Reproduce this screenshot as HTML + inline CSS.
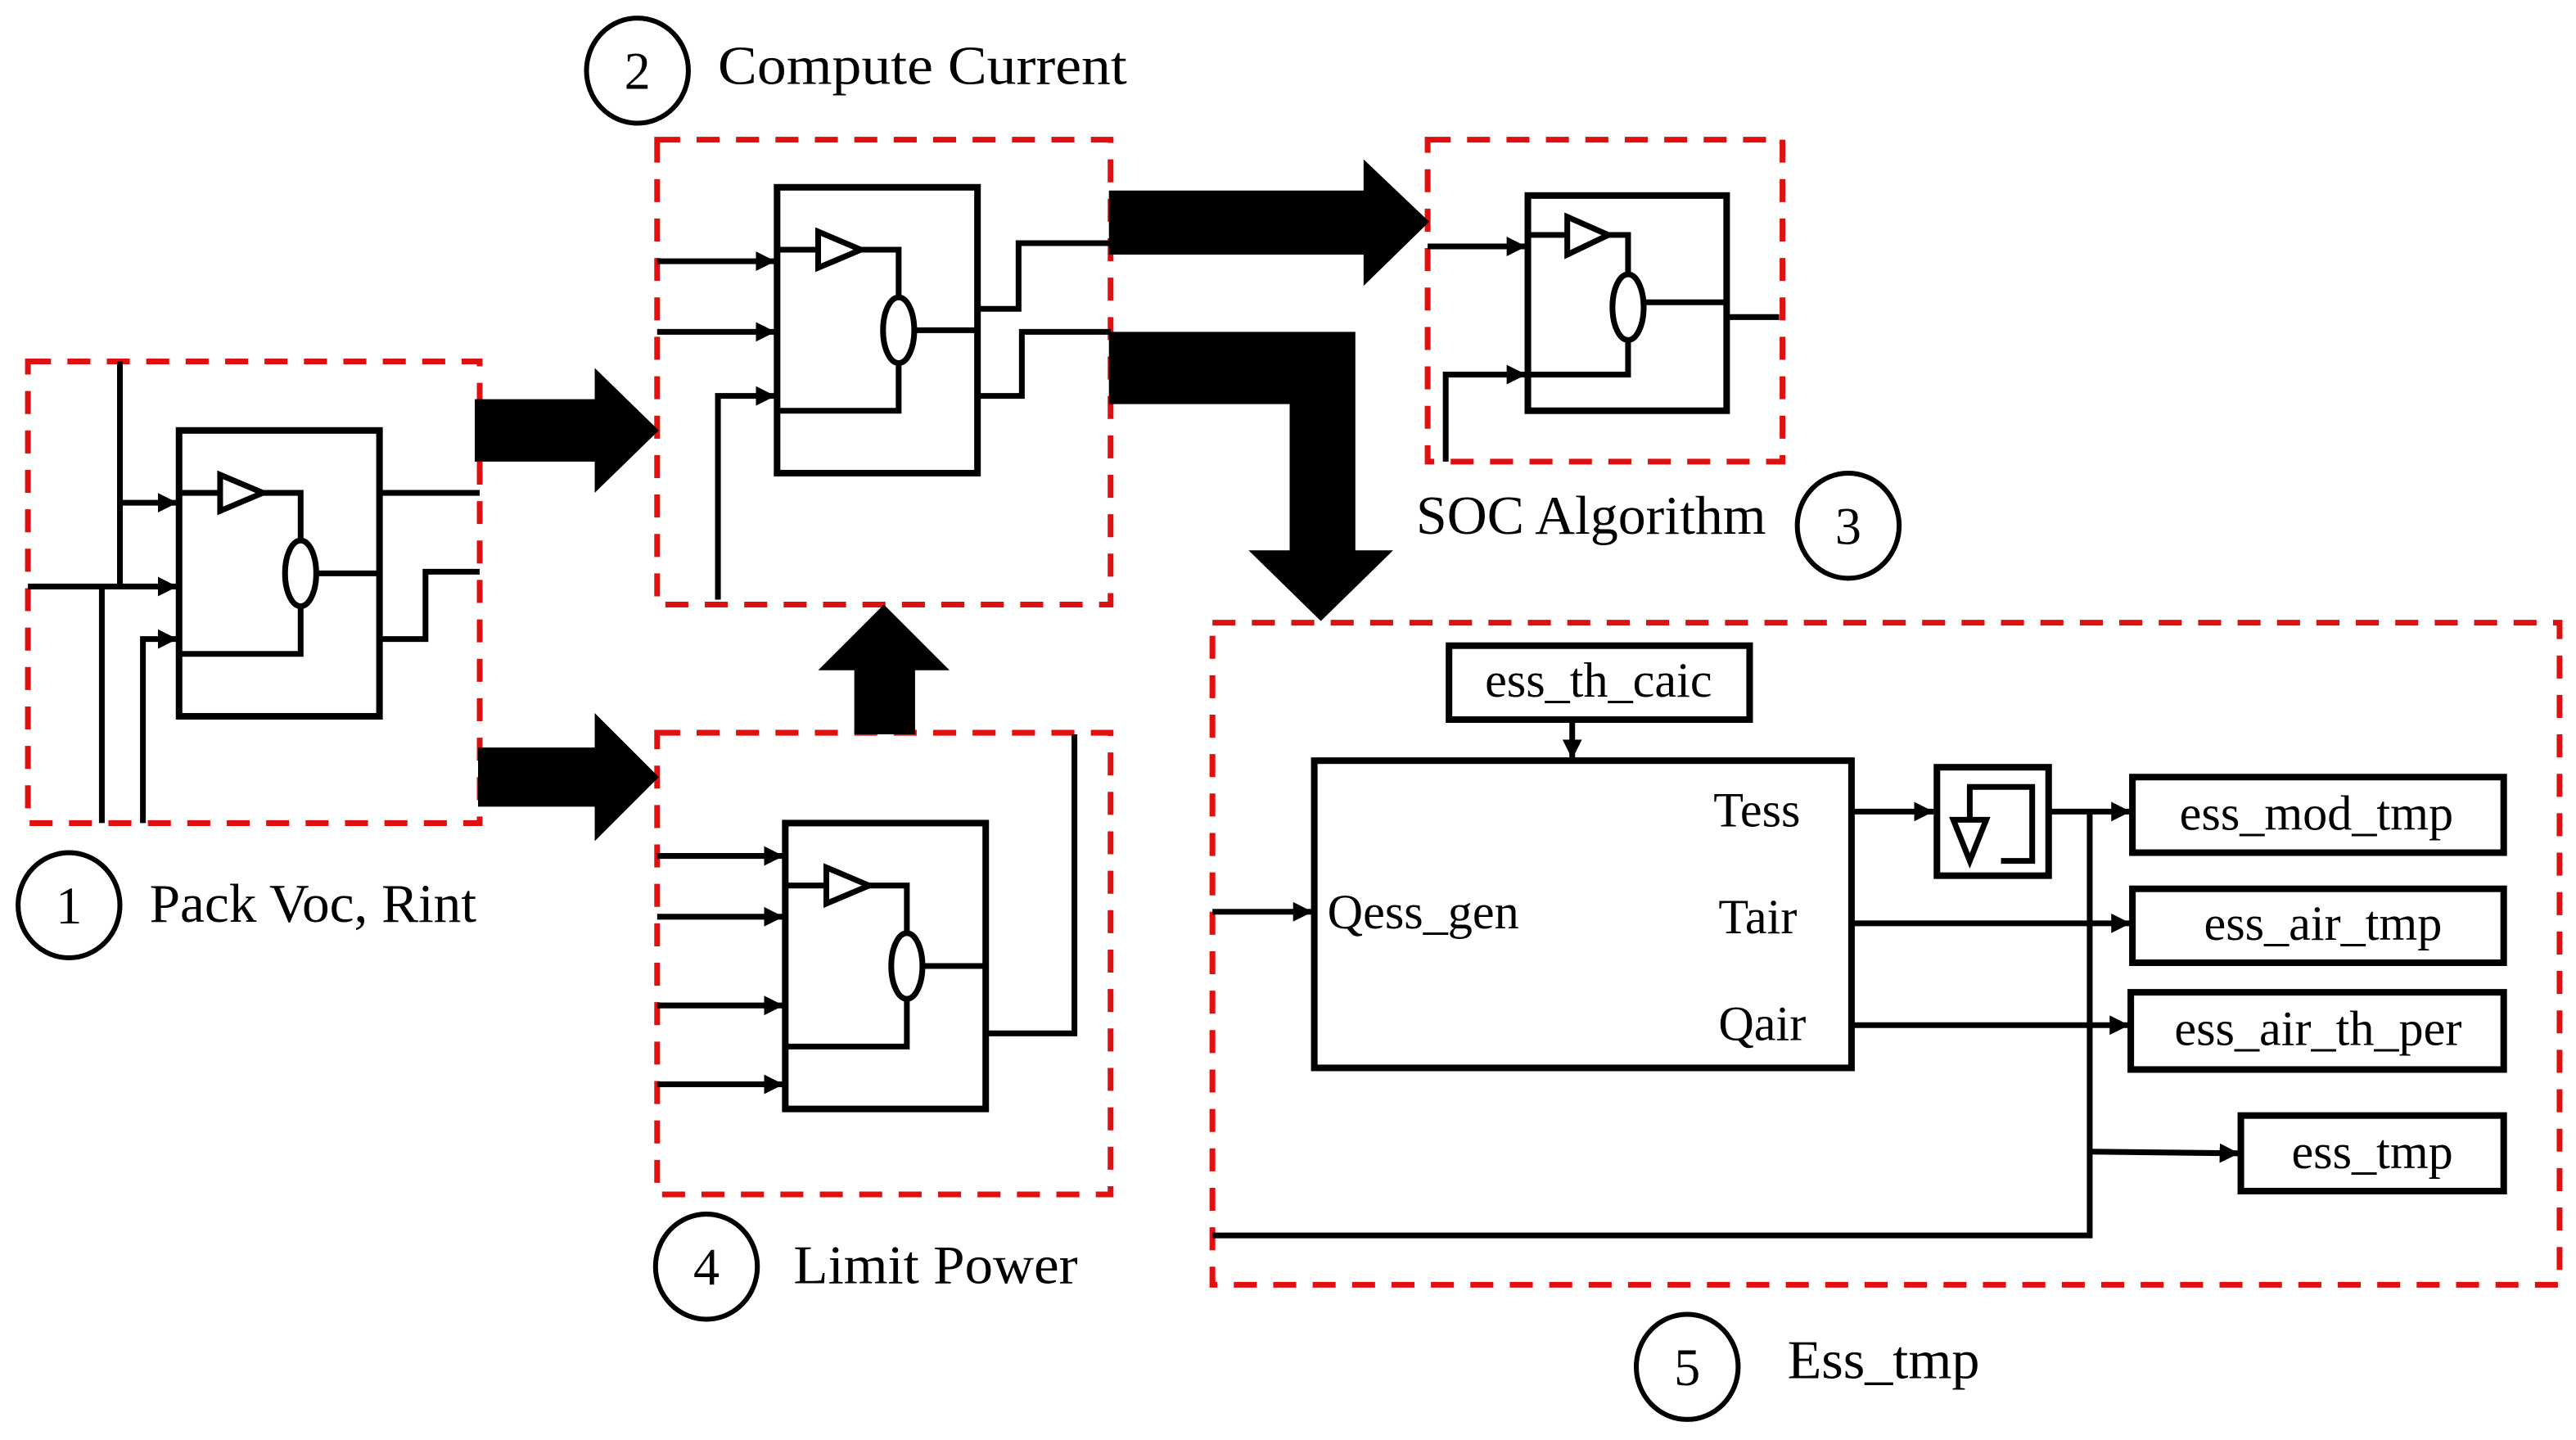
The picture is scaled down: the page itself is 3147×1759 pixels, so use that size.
<!DOCTYPE html>
<html><head><meta charset="utf-8"><style>
html,body{margin:0;padding:0;background:#fff;}
svg{display:block;}
text{font-family:"Liberation Serif",serif;fill:#000;}
</style></head><body>
<svg width="3147" height="1759" viewBox="0 0 1568 876.5" preserveAspectRatio="none" xmlns="http://www.w3.org/2000/svg">
<defs>
<marker id="ah" viewBox="0 0 10 10" refX="10" refY="5" markerWidth="3.4" markerHeight="3.4" orient="auto" markerUnits="strokeWidth"><path d="M0,0 L10,5 L0,10 z" fill="#000"/></marker>
<g id="blk">
<rect x="0" y="0" width="122" height="174" fill="none" stroke="#000" stroke-width="4"/>
<polyline points="0,38 25,38" fill="none" stroke="#000" stroke-width="3.5"/>
<polygon points="25,27 25,49 51,38" fill="none" stroke="#000" stroke-width="3.5"/>
<polyline points="51,38 74,38 74,67" fill="none" stroke="#000" stroke-width="3.5"/>
<ellipse cx="74" cy="87" rx="9.5" ry="20" fill="none" stroke="#000" stroke-width="3.5"/>
<polyline points="74,107 74,136 0,136" fill="none" stroke="#000" stroke-width="3.5"/>
<line x1="84" y1="87" x2="122" y2="87" stroke="#000" stroke-width="3.5"/>
</g>
</defs>
<rect width="1568" height="876.5" fill="#fff"/>

<g fill="none" stroke="#e01010" stroke-width="3.5" stroke-dasharray="14,10">
<rect x="17" y="220" width="275" height="281"/>
<rect x="400" y="85" width="276" height="283"/>
<rect x="869" y="85" width="216" height="196"/>
<rect x="400" y="446" width="276" height="281"/>
<rect x="738" y="379" width="820" height="403"/>
</g>

<use href="#blk" x="109" y="262"/>
<g fill="none" stroke="#000" stroke-width="3.5">
<line x1="73" y1="220" x2="73" y2="357"/>
<line x1="73" y1="306" x2="108" y2="306" marker-end="url(#ah)"/>
<line x1="17" y1="357" x2="108" y2="357" marker-end="url(#ah)"/>
<line x1="62" y1="357" x2="62" y2="501"/>
<polyline points="87,501 87,389 108,389" marker-end="url(#ah)"/>
<line x1="231" y1="300" x2="292" y2="300"/>
<polyline points="231,389 259,389 259,348 292,348"/>
</g>

<use href="#blk" x="473" y="114"/>
<g fill="none" stroke="#000" stroke-width="3.5">
<line x1="400" y1="159" x2="472" y2="159" marker-end="url(#ah)"/>
<line x1="400" y1="202" x2="472" y2="202" marker-end="url(#ah)"/>
<polyline points="437,365 437,241 472,241" marker-end="url(#ah)"/>
<polyline points="595,188 620,188 620,148 676,148"/>
<polyline points="595,241 622,241 622,202 676,202"/>
</g>

<g fill="none" stroke="#000" stroke-width="3.5">
<rect x="930" y="119" width="121" height="131" stroke-width="4"/>
<line x1="930" y1="143" x2="954" y2="143"/>
<polygon points="954,132 954,155 979,143"/>
<polyline points="979,143 991,143 991,167"/>
<ellipse cx="991" cy="187" rx="9.5" ry="20"/>
<polyline points="991,207 991,228 930,228"/>
<line x1="1001" y1="184" x2="1051" y2="184"/>
<line x1="869" y1="150" x2="929" y2="150" marker-end="url(#ah)"/>
<polyline points="880,281 880,228 929,228" marker-end="url(#ah)"/>
<line x1="1051" y1="193" x2="1083" y2="193"/>
</g>

<use href="#blk" x="478" y="501"/>
<g fill="none" stroke="#000" stroke-width="3.5">
<line x1="400" y1="521" x2="477" y2="521" marker-end="url(#ah)"/>
<line x1="400" y1="558" x2="477" y2="558" marker-end="url(#ah)"/>
<line x1="400" y1="612" x2="477" y2="612" marker-end="url(#ah)"/>
<line x1="400" y1="660" x2="477" y2="660" marker-end="url(#ah)"/>
<polyline points="600,629 654,629 654,447"/>
</g>

<g fill="#000">
<polygon points="289,243 362,243 362,224 401,262 362,300 362,281 289,281"/>
<polygon points="291,455 362,455 362,434 401,473 362,512 362,491 291,491"/>
<polygon points="520,447 520,408 498,408 538,368 578,408 557,408 557,447"/>
<polygon points="675,116 830,116 830,97 870,135 830,174 830,155 675,155"/>
<polygon points="675,202 825,202 825,335 848,335 804,378 760,335 785,335 785,246 675,246"/>
</g>

<g fill="none" stroke="#000" stroke-width="3.5">
<rect x="882" y="393" width="183" height="45" stroke-width="4"/>
<line x1="957" y1="438" x2="957" y2="462" marker-end="url(#ah)"/>
<rect x="800" y="463" width="327" height="187" stroke-width="4"/>
<line x1="738" y1="555" x2="799" y2="555" marker-end="url(#ah)"/>
<line x1="1127" y1="494" x2="1177" y2="494" marker-end="url(#ah)"/>
<rect x="1179" y="467" width="68" height="66" stroke-width="4"/>
<polyline points="1199,499 1199,479 1237,479 1237,524 1218,524"/>
<polygon points="1189,499 1209,499 1199,524"/>
<line x1="1248" y1="494" x2="1297" y2="494" marker-end="url(#ah)"/>
<line x1="1127" y1="562" x2="1297" y2="562" marker-end="url(#ah)"/>
<line x1="1127" y1="624" x2="1296" y2="624" marker-end="url(#ah)"/>
<polyline points="1272,494 1272,752 738,752"/>
<line x1="1272" y1="701" x2="1363" y2="702" marker-end="url(#ah)"/>
<rect x="1298" y="473" width="226" height="46" stroke-width="4"/>
<rect x="1298" y="541" width="226" height="45" stroke-width="4"/>
<rect x="1297" y="604" width="227" height="47" stroke-width="4"/>
<rect x="1364" y="679" width="160" height="46" stroke-width="4"/>
</g>
<g font-size="30">
<text x="973" y="424" text-anchor="middle">ess_th_caic</text>
<text x="808" y="565">Qess_gen</text>
<text x="1043" y="503">Tess</text>
<text x="1046" y="568">Tair</text>
<text x="1046" y="633">Qair</text>
<text x="1410" y="505" text-anchor="middle">ess_mod_tmp</text>
<text x="1414" y="572" text-anchor="middle">ess_air_tmp</text>
<text x="1411" y="636" text-anchor="middle">ess_air_th_per</text>
<text x="1444" y="711" text-anchor="middle">ess_tmp</text>
</g>

<g fill="none" stroke="#000" stroke-width="3">
<ellipse cx="42" cy="551" rx="31" ry="32"/>
<ellipse cx="388" cy="43" rx="31" ry="32"/>
<ellipse cx="1125" cy="320" rx="31" ry="32"/>
<ellipse cx="430" cy="771" rx="31" ry="32"/>
<ellipse cx="1027" cy="832" rx="31" ry="32"/>
</g>
<g font-size="32">
<text x="42" y="562" text-anchor="middle">1</text>
<text x="388" y="54" text-anchor="middle">2</text>
<text x="1125" y="331" text-anchor="middle">3</text>
<text x="430" y="782" text-anchor="middle">4</text>
<text x="1027" y="843" text-anchor="middle">5</text>
</g>
<g font-size="33">
<text x="437" y="51" textLength="249" lengthAdjust="spacingAndGlyphs">Compute Current</text>
<text x="91" y="561" textLength="199" lengthAdjust="spacingAndGlyphs">Pack Voc, Rint</text>
<text x="862" y="325" textLength="213" lengthAdjust="spacingAndGlyphs">SOC Algorithm</text>
<text x="483" y="781" textLength="173" lengthAdjust="spacingAndGlyphs">Limit Power</text>
<text x="1088" y="839" textLength="117" lengthAdjust="spacingAndGlyphs">Ess_tmp</text>
</g>
</svg>
</body></html>
